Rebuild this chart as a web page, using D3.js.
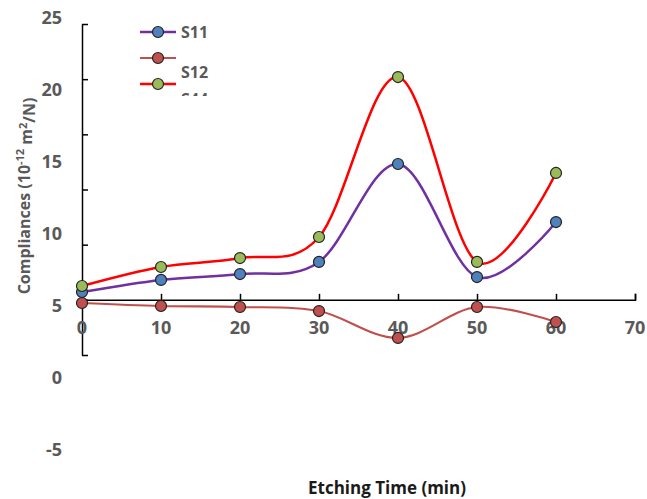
<!DOCTYPE html>
<html><head><meta charset="utf-8">
<script src="https://cdn.jsdelivr.net/npm/d3@7"></script>
<style>body{margin:0;background:#fff}svg{display:block}</style>
</head><body><div id="c"></div>
<script>
const times = [0, 10, 20, 30, 40, 50, 60];
const s11 = [5.97, 6.81, 7.22, 8.06, 14.86, 7.01, 10.83];
const s12 = [5.21, 5.00, 4.93, 4.65, 2.78, 4.93, 3.89];
const s44 = [6.39, 7.71, 8.33, 9.79, 20.90, 8.06, 14.24];
const xTicks = [0, 10, 20, 30, 40, 50, 60, 70];
const yTickLabels = [25, 20, 15, 10, 5, 0, -5];
const seriesNames = ["S11", "S12", "S44"];

const W = 647, H = 499;
const svg = d3.select("#c").append("svg").attr("width", W).attr("height", H);
const font = "'Open Sans', sans-serif";

const x = d3.scaleLinear().domain([0, 70]).range([82, 635]);
const yAxisScale = d3.scaleLinear().domain([-5, 25]).range([355, 24]);
const yVal = d3.scaleLinear().domain([-5, 25]).range([450, 18]);

// y axis line and ticks (ticks inward)
const yAx = svg.append("g").attr("transform", "translate(82,0)")
  .call(d3.axisRight(yAxisScale).tickValues(d3.range(-5, 26, 5)).tickSize(6).tickSizeOuter(0).tickFormat(""));
yAx.select(".domain").attr("stroke", "#000").attr("stroke-width", 1.5);
yAx.selectAll(".tick line").attr("stroke", "#000").attr("stroke-width", 1.5);

// y labels
svg.append("g").selectAll("text").data(yTickLabels).join("text")
  .attr("x", 62).attr("y", d => yVal(d)).attr("dy", "0.35em")
  .attr("text-anchor", "end").attr("font-family", font).attr("font-weight", "bold")
  .attr("font-size", 18).attr("fill", "#595959").text(d => d);

// x axis at y=0 of axis scale
const xAx = svg.append("g").attr("transform", `translate(0,${yAxisScale(0)})`)
  .call(d3.axisTop(x).tickValues(xTicks).tickSize(6).tickSizeOuter(6).tickFormat(""));
xAx.select(".domain").attr("stroke", "#000").attr("stroke-width", 1.5);
xAx.selectAll(".tick line").attr("stroke", "#000").attr("stroke-width", 1.5);

svg.append("g").selectAll("text").data(xTicks).join("text")
  .attr("x", d => x(d)).attr("y", 328).attr("dy", "0.35em")
  .attr("text-anchor", "middle").attr("font-family", font).attr("font-weight", "bold")
  .attr("font-size", 18).attr("fill", "#595959").text(d => d);

// titles
svg.append("text").attr("x", 387).attr("y", 488).attr("dy", "0.35em")
  .attr("text-anchor", "middle").attr("font-family", font).attr("font-weight", "bold")
  .attr("font-size", 17).attr("fill", "#1a1a1a").text("Etching Time (min)");

const yt = svg.append("text").attr("transform", "translate(24,196) rotate(-90)")
  .attr("dy", "0.35em").attr("text-anchor", "middle").attr("font-family", font)
  .attr("font-weight", "bold").attr("font-size", 16).attr("fill", "#595959");
yt.append("tspan").text("Compliances (10");
yt.append("tspan").attr("font-size", 11).attr("dy", "-0.5em").text("-12");
yt.append("tspan").attr("dy", "0.5em").text(" m");
yt.append("tspan").attr("font-size", 11).attr("dy", "-0.5em").text("2");
yt.append("tspan").attr("dy", "0.5em").text("/N)");

// series
const series = [
  {name: seriesNames[0], vals: s11, line: "#7030A0", fill: "#4F81BD", w: 2.5},
  {name: seriesNames[1], vals: s12, line: "#C0504D", fill: "#C0504D", w: 2.2},
  {name: seriesNames[2], vals: s44, line: "#FF0000", fill: "#9BBB59", w: 2.5}
];
const lineGen = d3.line().x(d => x(d[0])).y(d => yVal(d[1])).curve(d3.curveCardinal.tension(0));
const drawOrder = [series[1], series[0], series[2]];
drawOrder.forEach(s => {
  const pts = times.map((t, i) => [t, s.vals[i]]);
  svg.append("path").attr("d", lineGen(pts)).attr("fill", "none")
    .attr("stroke", s.line).attr("stroke-width", s.w);
});
drawOrder.forEach(s => {
  const pts = times.map((t, i) => [t, s.vals[i]]);
  svg.append("g").selectAll("circle").data(pts).join("circle")
    .attr("cx", d => x(d[0])).attr("cy", d => yVal(d[1])).attr("r", 5.5)
    .attr("fill", s.fill).attr("stroke", "#222").attr("stroke-width", 1.2);
});

// legend
const legY = [32, 58, 84];
const labY = [32, 72.5, 99];
svg.append("defs").append("clipPath").attr("id", "legclip")
  .append("rect").attr("x", 170).attr("y", 0).attr("width", 80).attr("height", 96);
series.forEach((s, i) => {
  svg.append("line").attr("x1", 140).attr("x2", 176).attr("y1", legY[i]).attr("y2", legY[i])
    .attr("stroke", s.line).attr("stroke-width", s.w);
  svg.append("circle").attr("cx", 158).attr("cy", legY[i]).attr("r", 5.5)
    .attr("fill", s.fill).attr("stroke", "#222").attr("stroke-width", 1.2);
  svg.append("text").attr("x", 181).attr("y", labY[i]).attr("dy", "0.35em")
    .attr("font-family", font).attr("font-weight", "bold").attr("font-size", 16)
    .attr("fill", "#595959").attr("clip-path", "url(#legclip)").text(s.name);
});
</script></body></html>
